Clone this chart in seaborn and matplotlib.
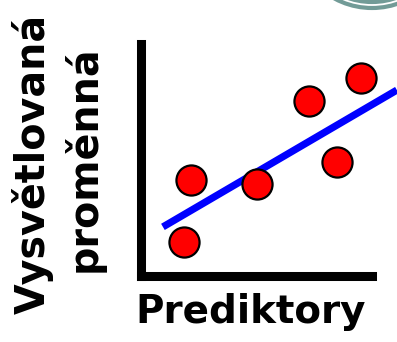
"""Schematic regression chart: predictor vs. response with a fitted line."""

import matplotlib

matplotlib.use("Agg")
import matplotlib.pyplot as plt  # noqa: E402
import pandas as pd  # noqa: E402
import seaborn as sns  # noqa: E402
from matplotlib.patches import Circle  # noqa: E402

# observed points (arbitrary units, both axes span 0-10)
predictor = [2.15, 1.84, 5.01, 7.27, 8.48, 9.52]
response = [4.13, 1.45, 3.95, 7.54, 4.90, 8.53]

# fitted regression line, two end points
fit_x = [0.93, 11.08]
fit_y = [2.10, 8.01]

x_label = "Prediktory"
y_label = ["Vysvětlovaná", "proměnná"]

RING_COLOR = "#729b97"


def main() -> None:
    sns.set_style("white")
    plt.rcParams["font.family"] = ["DejaVu Sans"]
    plt.rcParams["text.color"] = "black"

    fig = plt.figure(figsize=(3.97, 3.42), dpi=100)
    fig.patch.set_facecolor("white")
    ax = fig.add_axes([0.3564, 0.1944, 0.5806, 0.6769])

    points = pd.DataFrame({"x": predictor, "y": response})
    fit = pd.DataFrame({"x": fit_x, "y": fit_y})

    sns.lineplot(
        data=fit, x="x", y="y", ax=ax, color="#0000ff", linewidth=5.2,
        solid_capstyle="butt", clip_on=False, zorder=2,
    )
    sns.scatterplot(
        data=points, x="x", y="y", ax=ax, color="#ff0000", s=470,
        edgecolor="black", linewidth=1.6, clip_on=False, zorder=3,
    )

    ax.set_xlim(0, 10)
    ax.set_ylim(0, 10)
    ax.set_xticks([])
    ax.set_yticks([])
    ax.set_xlabel("")
    ax.set_ylabel("")
    for side in ("top", "right"):
        ax.spines[side].set_visible(False)
    for side in ("left", "bottom"):
        ax.spines[side].set_color("black")
        ax.spines[side].set_linewidth(6.5)

    # text labels
    fig.text(0.632, 1 - 323 / 342, x_label, ha="center", va="baseline",
             fontsize=28, fontweight="bold", color="black")
    fig.text(33 / 397, 0.52, y_label[0], ha="center", va="center",
             rotation=90, fontsize=28.5, fontweight="bold", color="black")
    fig.text(84 / 397, 0.535, y_label[1], ha="center", va="center",
             rotation=90, fontsize=28.5, fontweight="bold", color="black")

    # decorative double ring in the top-right corner
    for radius in (0.79, 0.73):
        fig.patches.append(Circle(
            (3.72, 4.13), radius, fill=False, edgecolor=RING_COLOR,
            linewidth=3.0, transform=fig.dpi_scale_trans,
        ))

    fig.savefig("out.png", dpi=100, facecolor="white")


if __name__ == "__main__":
    main()
